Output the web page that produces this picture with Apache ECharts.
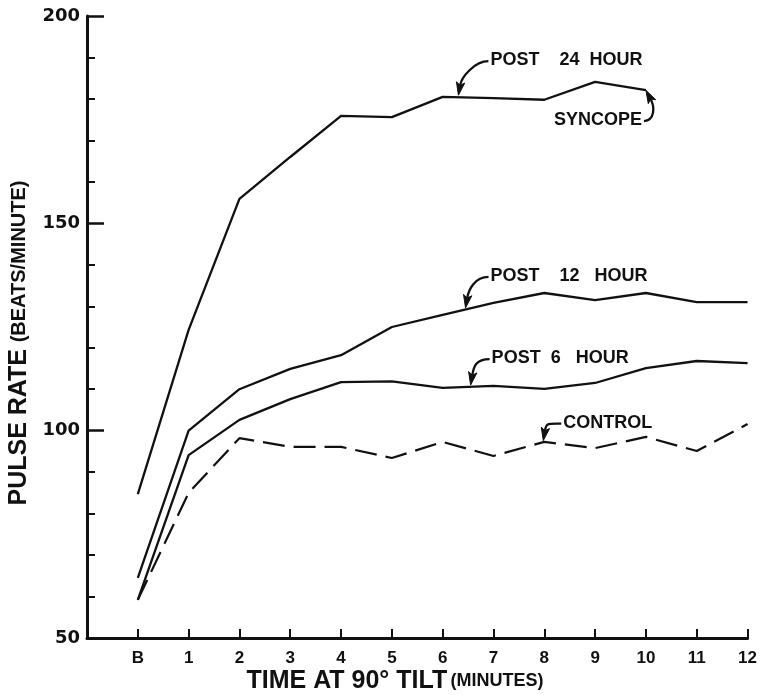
<!DOCTYPE html>
<html><head><meta charset="utf-8">
<script src="https://cdn.jsdelivr.net/npm/echarts@6/dist/echarts.min.js"></script>
<style>html,body{margin:0;padding:0;background:#fff}#c{width:760px;height:695px}</style>
</head><body><div id="c"></div>
<script>
const categories = ['B','1','2','3','4','5','6','7','8','9','10','11','12'];
const yTicks = [50, 100, 150, 200];
const post24  = [84.7, 124.3, 155.9, 166.0, 175.9, 175.6, 180.5, 180.2, 179.8, 184.1, 182.1];
const post12  = [64.5, 100.0, 110.0, 114.9, 118.2, 125.0, 127.9, 130.8, 133.2, 131.5, 133.2, 131.0, 131.0];
const post6   = [59.2, 94.1, 102.6, 107.6, 111.7, 111.9, 110.3, 110.8, 110.1, 111.5, 115.1, 116.8, 116.3];
const control = [59.2, 85.0, 98.2, 96.1, 96.1, 93.4, 97.3, 93.9, 97.3, 95.8, 98.5, 95.1, 101.6];
const seriesNames = ['POST 24 HOUR', 'POST 12 HOUR', 'POST 6 HOUR', 'CONTROL'];
const annotations = [
  {text: 'POST    24  HOUR', at: [6.31, 180.9], dx: 32, dy: -35, side: 'left'},
  {text: 'POST    12   HOUR', at: [6.45, 129.6], dx: 25, dy: -32, side: 'left'},
  {text: 'POST  6   HOUR', at: [6.55, 111.0], dx: 21, dy: -27, side: 'left'},
  {text: 'CONTROL',       at: [7.98, 97.6],  dx: 20, dy: -18, side: 'left'},
  {text: 'SYNCOPE',       at: [10, 182.1],   dx: -4, dy: 30,  side: 'right'}
];

const INK = '#111';
const FONT = '"Liberation Sans", Arial, sans-serif';
const chart = echarts.init(document.getElementById('c'), null, {renderer: 'canvas'});
const toPairs = arr => arr.map((v, i) => [i, v]);

chart.setOption({
  animation: false,
  backgroundColor: '#fff',
  grid: {left: 87, right: 10, top: 16, bottom: 57, containLabel: false},
  xAxis: {
    type: 'value', min: -1, max: categories.length - 1, interval: 1,
    axisLine: {show: true, onZero: false, lineStyle: {color: INK, width: 3}},
    axisTick: {show: true, inside: true, length: 9, lineStyle: {color: INK, width: 2}},
    axisLabel: {margin: 12, color: INK, fontSize: 17, fontWeight: 'bold', fontFamily: FONT,
      formatter: v => (v >= 0 ? categories[v] : '')},
    splitLine: {show: false}
  },
  yAxis: {
    type: 'value', min: yTicks[0], max: yTicks[yTicks.length - 1], interval: yTicks[1] - yTicks[0],
    axisLine: {show: true, onZero: false, lineStyle: {color: INK, width: 3}},
    axisTick: {show: true, inside: true, length: 17, lineStyle: {color: INK, width: 2.5}},
    minorTick: {show: true, splitNumber: 5, length: 8, lineStyle: {color: INK, width: 2}},
    axisLabel: {margin: 7, color: INK, fontSize: 18, fontWeight: 'bold', fontFamily: '"DejaVu Sans", sans-serif'},
    splitLine: {show: false}
  },
  series: [
    {name: seriesNames[0], type: 'line', data: toPairs(post24), symbol: 'none', lineStyle: {color: INK, width: 2.3}},
    {name: seriesNames[1], type: 'line', data: toPairs(post12), symbol: 'none', lineStyle: {color: INK, width: 2.3}},
    {name: seriesNames[2], type: 'line', data: toPairs(post6), symbol: 'none', lineStyle: {color: INK, width: 2.3}},
    {name: seriesNames[3], type: 'line', data: toPairs(control), symbol: 'none', lineStyle: {color: INK, width: 2.2, type: [22, 9]}}
  ]
});

function buildGraphics() {
  const g = [];
  annotations.forEach(a => {
    const T = chart.convertToPixel({xAxisIndex: 0, yAxisIndex: 0}, a.at);
    const tx = T[0] + a.dx, ty = T[1] + a.dy;
    let S, cp1, cp2;
    if (a.side === 'left') {
      S = [tx - 2, ty + 1];
      cp1 = [S[0] - 14, S[1]];
      cp2 = [T[0] + 3, T[1] - 18];
    } else {
      S = [tx + 2, ty + 1];
      cp1 = [S[0] + 11, S[1] - 1];
      cp2 = [T[0] + 9, T[1] + 17];
    }
    let d = [T[0] - cp2[0], T[1] - cp2[1]];
    const L = Math.hypot(d[0], d[1]);
    d = [d[0] / L, d[1] / L];
    const p = [-d[1], d[0]];
    const B = [T[0] - d[0] * 13, T[1] - d[1] * 13];
    g.push({type: 'bezierCurve', silent: true,
      shape: {x1: S[0], y1: S[1], cpx1: cp1[0], cpy1: cp1[1], cpx2: cp2[0], cpy2: cp2[1], x2: B[0] + d[0] * 3, y2: B[1] + d[1] * 3},
      style: {stroke: INK, lineWidth: 2.3, fill: null}});
    g.push({type: 'polygon', silent: true,
      shape: {points: [[T[0], T[1]], [B[0] + p[0] * 4.2, B[1] + p[1] * 4.2], [B[0] + d[0] * 3, B[1] + d[1] * 3], [B[0] - p[0] * 4.2, B[1] - p[1] * 4.2]]},
      style: {fill: INK, stroke: INK, lineWidth: 1}});
    g.push({type: 'text', silent: true, x: tx, y: ty,
      style: {text: a.text, align: a.side === 'left' ? 'left' : 'right', verticalAlign: 'middle',
        fill: INK, font: 'bold 18px ' + FONT}});
  });
  g.push({type: 'text', silent: true, x: 395, y: 681,
    style: {text: '{a|TIME AT 90° TILT} {b|(MINUTES)}', align: 'center', verticalAlign: 'middle',
      rich: {a: {fontSize: 25, fontWeight: 'bold', fontFamily: FONT, fill: INK, color: INK},
             b: {fontSize: 18, fontWeight: 'bold', fontFamily: FONT, fill: INK, color: INK}}}});
  g.push({type: 'text', silent: true, x: 19, y: 343, rotation: Math.PI / 2,
    style: {text: '{a|PULSE RATE}  {b|(BEATS/MINUTE)}', align: 'center', verticalAlign: 'middle',
      rich: {a: {fontSize: 25, fontWeight: 'bold', fontFamily: FONT, fill: INK, color: INK},
             b: {fontSize: 20, fontWeight: 'bold', fontFamily: FONT, fill: INK, color: INK}}}});
  return g;
}
chart.setOption({graphic: buildGraphics()});
</script>
</body></html>
